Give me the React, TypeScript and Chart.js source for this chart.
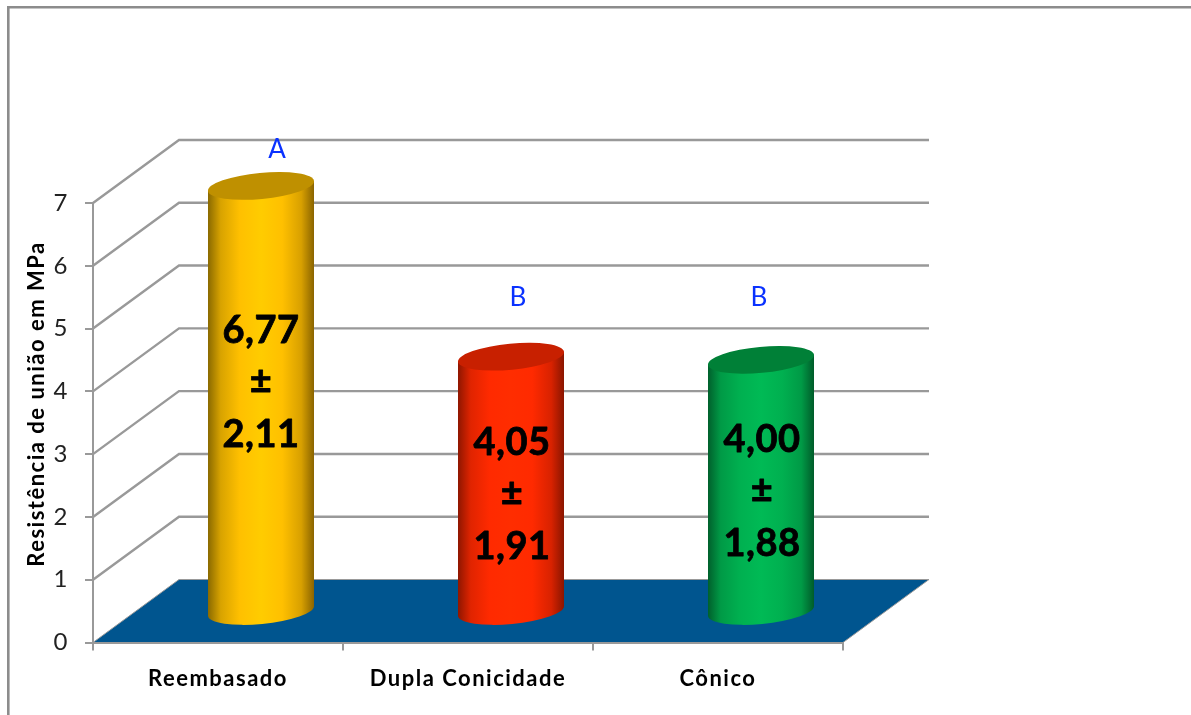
import React, { useEffect, useRef } from "react";
import { Chart, registerables } from "chart.js";

Chart.register(...registerables);

const categories = ["Reembasado", "Dupla Conicidade", "Cônico"];
const means = [6.77, 4.05, 4.0];
const deviations = [2.11, 1.91, 1.88];
const groups = ["A", "B", "B"];
const yTicks = [0, 1, 2, 3, 4, 5, 6, 7];
const yAxisTitle = "Resistência de união em MPa";

const bodyStops = [
  ["#8a6a00", "#d8a300", "#ffc000", "#ffcc00", "#ffc000", "#d8a000", "#8a6400"],
  ["#8f1600", "#e02400", "#ff2a00", "#ff2d00", "#ff2a00", "#d82200", "#8a1500"],
  ["#00602c", "#009a46", "#00b050", "#00ba55", "#00b050", "#009a46", "#005c2a"],
];
const topColors = ["#bf9000", "#c82000", "#008037"];

// 3D projection of the depth axis
const DX = 86;
const DY = -63;
const GRID = "#999999";
const FONT = "Lato";

const backdrop = {
  id: "backdrop",
  beforeDraw(chart: any) {
    const { ctx, scales } = chart;
    const y = scales.y;
    const x = scales.x;
    const left = x.left;
    const right = x.right;
    const y0 = y.getPixelForValue(0);
    ctx.letterSpacing = "1.5px";
    ctx.save();
    // picture frame
    ctx.strokeStyle = "#8c8c8c";
    ctx.lineWidth = 2.6;
    ctx.beginPath();
    ctx.moveTo(8.3, 715);
    ctx.lineTo(8.3, 7.3);
    ctx.lineTo(1191, 7.3);
    ctx.stroke();
    // walls
    ctx.strokeStyle = GRID;
    ctx.lineWidth = 2.4;
    yTicks.slice(1).forEach((v) => {
      const py = y.getPixelForValue(v);
      ctx.beginPath();
      ctx.moveTo(left, py);
      ctx.lineTo(left + DX, py + DY);
      ctx.lineTo(right + DX, py + DY);
      ctx.stroke();
    });
    // floor
    ctx.fillStyle = "#00558f";
    ctx.strokeStyle = GRID;
    ctx.lineWidth = 1;
    ctx.beginPath();
    ctx.moveTo(left, y0);
    ctx.lineTo(left + DX, y0 + DY);
    ctx.lineTo(right + DX, y0 + DY);
    ctx.lineTo(right, y0);
    ctx.closePath();
    ctx.fill();
    ctx.stroke();
    ctx.restore();
  },
};

const TILT = (-5.4 * Math.PI) / 180;

const cylinders = {
  id: "cylinders",
  afterDatasetsDraw(chart: any) {
    const { ctx } = chart;
    const meta = chart.getDatasetMeta(0);
    meta.data.forEach((bar: any, i: number) => {
      const cx = bar.x + DX / 2;
      const top = bar.y + DY / 2;
      const base = bar.base + DY / 2 + 1;
      const hw = bar.width / 2;
      const a = hw / Math.cos(TILT);
      const b = 13;
      const lift = hw * Math.tan(-TILT);
      const g = ctx.createLinearGradient(cx - hw, 0, cx + hw, 0);
      const stops = bodyStops[i];
      [0, 0.12, 0.3, 0.5, 0.7, 0.88, 1].forEach((p, k) => g.addColorStop(p, stops[k]));
      ctx.save();
      ctx.fillStyle = g;
      ctx.beginPath();
      ctx.moveTo(cx + hw, top - lift);
      ctx.lineTo(cx + hw, base - lift);
      ctx.ellipse(cx, base, a, b, TILT, 0, Math.PI, false);
      ctx.lineTo(cx - hw, top + lift);
      ctx.closePath();
      ctx.fill();
      ctx.fillStyle = topColors[i];
      ctx.beginPath();
      ctx.ellipse(cx, top, a, b, TILT, 0, Math.PI * 2);
      ctx.fill();
      ctx.restore();
    });
  },
};

const fmt = (v: number) => v.toFixed(2).replace(".", ",");

const notes = {
  id: "notes",
  afterDraw(chart: any) {
    const { ctx, scales } = chart;
    const meta = chart.getDatasetMeta(0);
    // hand-placed annotations, as offsets from the top of each bar
    const textTop = [331, 443, 440];
    const textDx = [0, 1, 1];
    const letterPos = [
      [16, -36],
      [7, -59.5],
      [-2, -62.5],
    ];
    ctx.save();
    ctx.textAlign = "center";
    ctx.textBaseline = "middle";
    ctx.lineJoin = "round";
    meta.data.forEach((bar: any, i: number) => {
      const cx = bar.x + DX / 2 + textDx[i];
      const top = bar.y + DY / 2;
      ctx.fillStyle = "#000";
      ctx.strokeStyle = "#000";
      ctx.lineWidth = 0.8;
      ctx.letterSpacing = "0.5px";
      ctx.font = `bold 38px ${FONT}`;
      [fmt(means[i]), "±", fmt(deviations[i])].forEach((t, k) => {
        const ty = textTop[i] + [0, 51, 104][k];
        ctx.fillText(t, cx, ty);
        ctx.strokeText(t, cx, ty);
      });
      ctx.letterSpacing = "0px";
      ctx.fillStyle = "#0a32ff";
      ctx.font = `26px ${FONT}`;
      ctx.fillText(groups[i], bar.x + DX / 2 + letterPos[i][0], top + letterPos[i][1]);
    });
    // axis title, sits above the middle of the axis
    ctx.translate(37, scales.y.top + 201);
    ctx.rotate(-Math.PI / 2);
    ctx.fillStyle = "#000";
    ctx.letterSpacing = "1.5px";
    ctx.font = `bold 22px ${FONT}`;
    ctx.fillText(yAxisTitle, 0, 0);
    ctx.restore();
  },
};

export default function App() {
  const ref = useRef<HTMLCanvasElement>(null);
  useEffect(() => {
    const chart = new Chart(ref.current!, {
      type: "bar",
      data: {
        labels: categories,
        datasets: [
          {
            data: means,
            backgroundColor: "rgba(0,0,0,0)",
            barPercentage: 0.424,
            categoryPercentage: 1,
          },
        ],
      },
      plugins: [backdrop, cylinders, notes],
      options: {
        responsive: false,
        animation: false,
        layout: { padding: { left: 20, right: 348, top: 203, bottom: 12.5 } },
        plugins: { legend: { display: false }, title: { display: false }, tooltip: { enabled: false } },
        scales: {
          x: {
            afterFit: (s: any) => {
              s.height = 60;
            },
            grid: { drawOnChartArea: false, color: GRID, lineWidth: 2, tickLength: 8, tickColor: GRID },
            border: { color: GRID, width: 2 },
            ticks: { color: "#000", padding: 15, maxRotation: 0, font: { family: FONT, weight: "bold", size: 22 } },
          },
          y: {
            min: 0,
            max: 7,
            afterFit: (s: any) => {
              s.width = 73;
            },
            grid: { drawOnChartArea: false, color: GRID, lineWidth: 2, tickLength: 8, tickColor: GRID },
            border: { color: GRID, width: 2 },
            afterBuildTicks: (s: any) => {
              s.ticks = yTicks.map((value) => ({ value }));
            },
            ticks: { color: "#222", padding: 16, font: { family: FONT, size: 24 } },
          },
        },
      },
    } as any);
    return () => chart.destroy();
  }, []);
  return (
    <div style={{ position: "fixed", left: 0, top: 0, width: 1191, height: 715, background: "#fff" }}>
      <canvas ref={ref} width={1191} height={715} style={{ display: "block" }} />
    </div>
  );
}
